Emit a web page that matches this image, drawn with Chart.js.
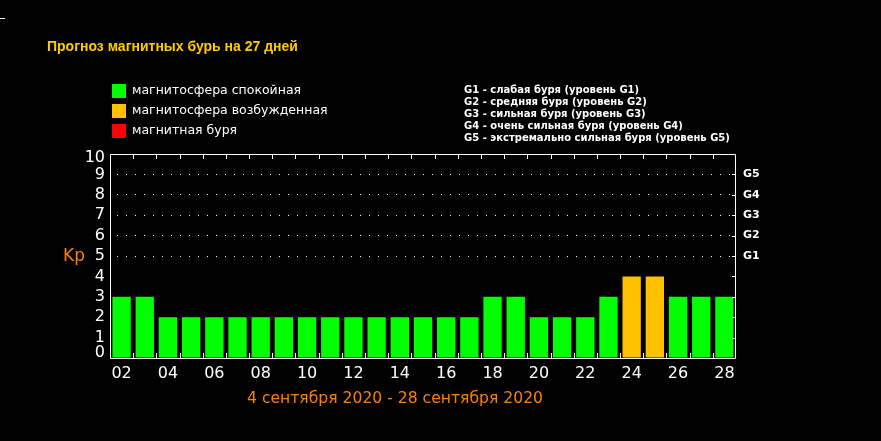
<!DOCTYPE html>
<html><head><meta charset="utf-8">
<script src="https://cdn.jsdelivr.net/npm/chart.js@4/dist/chart.umd.min.js"></script>
<style>html,body{margin:0;padding:0;background:#000;overflow:hidden}#wrap{width:881px;height:441px;position:relative}</style>
</head><body><div id="wrap"><canvas id="c" width="881" height="441"></canvas></div>
<script>
// ---- data ----
const days = ['02','03','04','05','06','07','08','09','10','11','12','13','14','15','16','17','18','19','20','21','22','23','24','25','26','27','28'];
const kpValues = [3,3,2,2,2,2,2,2,2,2,2,2,2,2,2,2,3,3,2,2,2,3,4,4,3,3,3];
const yTicks = [0,1,2,3,4,5,6,7,8,9,10];
const levelTickValues = [5,6,7,8,9];
const levelTickLabels = ['G1','G2','G3','G4','G5'];
const legendLabels = ['магнитосфера спокойная','магнитосфера возбужденная','магнитная буря'];
const legendColors = ['#00ff00','#ffc000','#ff0000'];
const stormScaleLines = [
  'G1 - слабая буря (уровень G1)',
  'G2 - средняя буря (уровень G2)',
  'G3 - сильная буря (уровень G3)',
  'G4 - очень сильная буря (уровень G4)',
  'G5 - экстремально сильная буря (уровень G5)'
];
const chartTitle = 'Прогноз магнитных бурь на 27 дней';
const dateRangeText = '4 сентября 2020 - 28 сентября 2020';
const yAxisTitle = 'Kp';

const barColor = v => v >= 5 ? legendColors[2] : (v >= 4 ? legendColors[1] : legendColors[0]);

const decor = {
  id: 'decor',
  afterDatasetsDraw(chart) {
    const {ctx, chartArea: a, scales} = chart;
    const x = scales.x, y = scales.y;
    ctx.save();
    ctx.strokeStyle = '#fff';
    ctx.lineWidth = 1;
    ctx.beginPath();
    ctx.rect(a.left + 0.5, a.top + 0.5, a.right - a.left - 1, a.bottom - a.top);
    for (let i = 0; i < days.length - 1; i++) {
      const bx = Math.round((x.getPixelForTick(i) + x.getPixelForTick(i + 1)) / 2) + 0.5;
      ctx.moveTo(bx, a.top); ctx.lineTo(bx, a.top + 5);
      ctx.moveTo(bx, a.bottom); ctx.lineTo(bx, a.bottom - 5);
    }
    for (const v of yTicks) {
      if (v === 0 || v === 10) continue;
      const py = Math.round(y.getPixelForValue(v)) + 0.5;
      ctx.moveTo(a.right - 4, py); ctx.lineTo(a.right, py);
    }
    ctx.stroke();
    ctx.restore();
  },
  afterDraw(chart) {
    const {ctx, chartArea: a, scales} = chart;
    const y = scales.y;
    ctx.save();
    ctx.fillStyle = '#fff';
    ctx.fillRect(0, 18, 5, 1);
    ctx.font = '16px "DejaVu Sans", sans-serif';
    ctx.textAlign = 'right';
    ctx.textBaseline = 'middle';
    for (const v of yTicks) {
      let py = y.getPixelForValue(v);
      if (v === 0) py -= 5;
      if (v === 10) py += 3.5;
      ctx.fillText(String(v), a.left - 5, py);
    }
    ctx.fillStyle = '#ffcc00';
    ctx.font = 'bold 14px "Liberation Sans", Arial, sans-serif';
    ctx.textAlign = 'left';
    ctx.fillText(chartTitle, 47, 47);
    ctx.font = '12.5px "DejaVu Sans", sans-serif';
    legendLabels.forEach((t, i) => {
      const cy = 91 + i * 20;
      ctx.fillStyle = legendColors[i];
      ctx.fillRect(112, cy - 7, 14, 14);
      ctx.fillStyle = '#fff';
      ctx.fillText(t, 132, cy);
    });
    ctx.font = 'bold 10px "DejaVu Sans", sans-serif';
    stormScaleLines.forEach((t, i) => {
      ctx.fillText(t, 464, 90.5 + i * 12);
    });
    ctx.fillStyle = '#ff8000';
    ctx.font = '17px "DejaVu Sans", sans-serif';
    ctx.textAlign = 'center';
    ctx.fillText(yAxisTitle, 74, 257);
    ctx.font = '15.6px "DejaVu Sans", sans-serif';
    ctx.fillText(dateRangeText, 395, 399);
    ctx.restore();
  }
};

new Chart(document.getElementById('c'), {
  type: 'bar',
  data: {
    labels: days,
    datasets: [{
      data: kpValues,
      backgroundColor: kpValues.map(barColor),
      borderWidth: 0,
      barPercentage: 0.79,
      categoryPercentage: 1.0
    }]
  },
  plugins: [decor],
  options: {
    responsive: false,
    animation: false,
    devicePixelRatio: 1,
    layout: {padding: {top: 154, left: 0, right: 0, bottom: 0}},
    plugins: {legend: {display: false}, tooltip: {enabled: false}, title: {display: false}},
    scales: {
      x: {
        grid: {display: false},
        border: {display: false},
        ticks: {
          color: '#fff', autoSkip: false, maxRotation: 0, padding: -2,
          font: {family: 'DejaVu Sans', size: 16},
          callback: (v, i) => (i % 2 === 0 ? days[i] : '')
        },
        afterFit: s => { s.height = 83; }
      },
      y: {
        position: 'left', min: 0, max: 10,
        afterBuildTicks: s => { s.ticks = yTicks.map(v => ({value: v})); },
        border: {display: false, dash: [1, 8], dashOffset: 2},
        grid: {
          drawTicks: false,
          color: c => levelTickValues.includes(c.tick.value) ? '#ffffff' : 'rgba(0,0,0,0)',
          lineWidth: 1
        },
        ticks: {display: false, autoSkip: false},
        afterFit: s => { s.width = 110; }
      },
      y2: {
        position: 'right', min: 0, max: 10,
        afterBuildTicks: s => { s.ticks = levelTickValues.map(v => ({value: v})); },
        border: {display: false},
        grid: {display: false, drawTicks: false},
        ticks: {
          color: '#fff', autoSkip: false, padding: 7,
          font: {family: 'DejaVu Sans', size: 11, weight: 'bold'},
          callback: v => levelTickLabels[levelTickValues.indexOf(v)]
        },
        afterFit: s => { s.width = 145; }
      }
    }
  }
});
</script>
</body></html>
